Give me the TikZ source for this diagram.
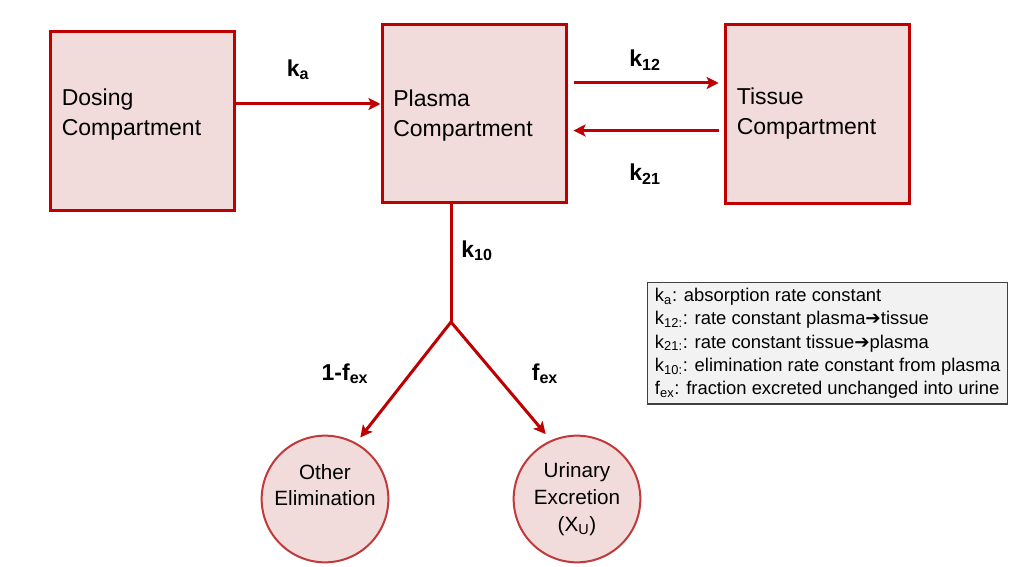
\documentclass[tikz,border=0pt]{standalone}
\usepackage{fontspec}
\setmainfont{Liberation Sans}
\newfontfamily\arrowfont{DejaVu Sans}
\usepackage{xcolor}
\usetikzlibrary{arrows.meta,positioning,calc}
\definecolor{pkred}{HTML}{C00000}
\definecolor{pkring}{HTML}{C0393B}
\definecolor{pkfill}{HTML}{F2DCDB}
\definecolor{pkkey}{HTML}{F2F2F2}
\definecolor{pkrule}{HTML}{404040}
\newcommand{\toarr}{{\arrowfont\bfseries\char"2794}}

\begin{document}
\begin{tikzpicture}[x=0.75pt, y=-0.75pt, >={Stealth[length=9pt,width=9pt,inset=2pt]},
  comp/.style={draw=pkred, line width=2.25pt, fill=pkfill, minimum width=138pt, minimum height=134pt, text width=121pt, align=left, inner sep=0pt, font=\fontsize{17.25}{22.5}\selectfont},
  sink/.style={circle, draw=pkring, line width=1.5pt, fill=pkfill, minimum size=95pt, inner sep=0pt, align=center, font=\fontsize{15.5}{20}\selectfont},
  lbl/.style={font=\bfseries\fontsize{17.25}{20}\selectfont, inner sep=1pt},
  key/.style={draw=pkrule, line width=1.1pt, fill=pkkey, minimum width=270pt, align=left, inner sep=4pt, font=\fontsize{13.8}{17.5}\selectfont},
  flow/.style={draw=pkred, line width=2.25pt}]
  \useasboundingbox (0,0) rectangle (1011,567);
  % compartments
  \node[comp, text depth=35pt] (dose) at (142.5,121) {Dosing\\Compartment};
  \node[comp, text depth=23.5pt] (plasma) at (474,113.5) {Plasma\\Compartment};
  \node[comp] (tissue) at (817.5,114) {Tissue\\Compartment};
  % elimination pools
  \node[sink, text depth=21pt] (other) at (325,499) {Other\\Elimination};
  \node[sink] (urine) at (577,499) {Urinary\\Excretion\\(X\textsubscript{U})};
  % rate constants
  \coordinate (kas) at ([yshift=12.75pt]dose.east);
  \draw[flow, ->] (kas) -- (kas -| plasma.west);
  \node[lbl] (ka) at (298,70) {k\textsubscript{a}};
  \coordinate (k12s) at ([shift={(4.5pt,22.9pt)}]plasma.east);
  \draw[flow, ->, shorten >=4pt] (k12s) -- (k12s -| tissue.west);
  \node[lbl] (k12) at (645,60) {k\textsubscript{12}};
  \coordinate (k21s) at ([shift={(-4pt,-12.4pt)}]tissue.west);
  \draw[flow, ->, shorten >=4.5pt] (k21s) -- (k21s -| plasma.east);
  \node[lbl] (k21) at (645,174) {k\textsubscript{21}};
  % k10 split
  \coordinate (split) at (451,322);
  \draw[flow] (plasma.south -| split) -- (split);
  \node[lbl] (k10) at (477,251) {k\textsubscript{10}};
  \draw[flow, ->, shorten >=5pt] (split) -- (other.61);
  \draw[flow, ->, shorten >=6pt] (split) -- (urine.114);
  \node[lbl] (fo) at (345,374) {1-f\textsubscript{ex}};
  \node[lbl] (fu) at (545,374) {f\textsubscript{ex}};
  % legend
  \node[key, anchor=north west] (legend) at (647,282) {%
    k\textsubscript{a}: absorption rate constant\\
    k\textsubscript{12:}: rate constant plasma\toarr tissue\\
    k\textsubscript{21:}: rate constant tissue\toarr plasma\\
    k\textsubscript{10:}: elimination rate constant from plasma\\
    f\textsubscript{ex}: fraction excreted unchanged into urine};
\end{tikzpicture}
\end{document}
